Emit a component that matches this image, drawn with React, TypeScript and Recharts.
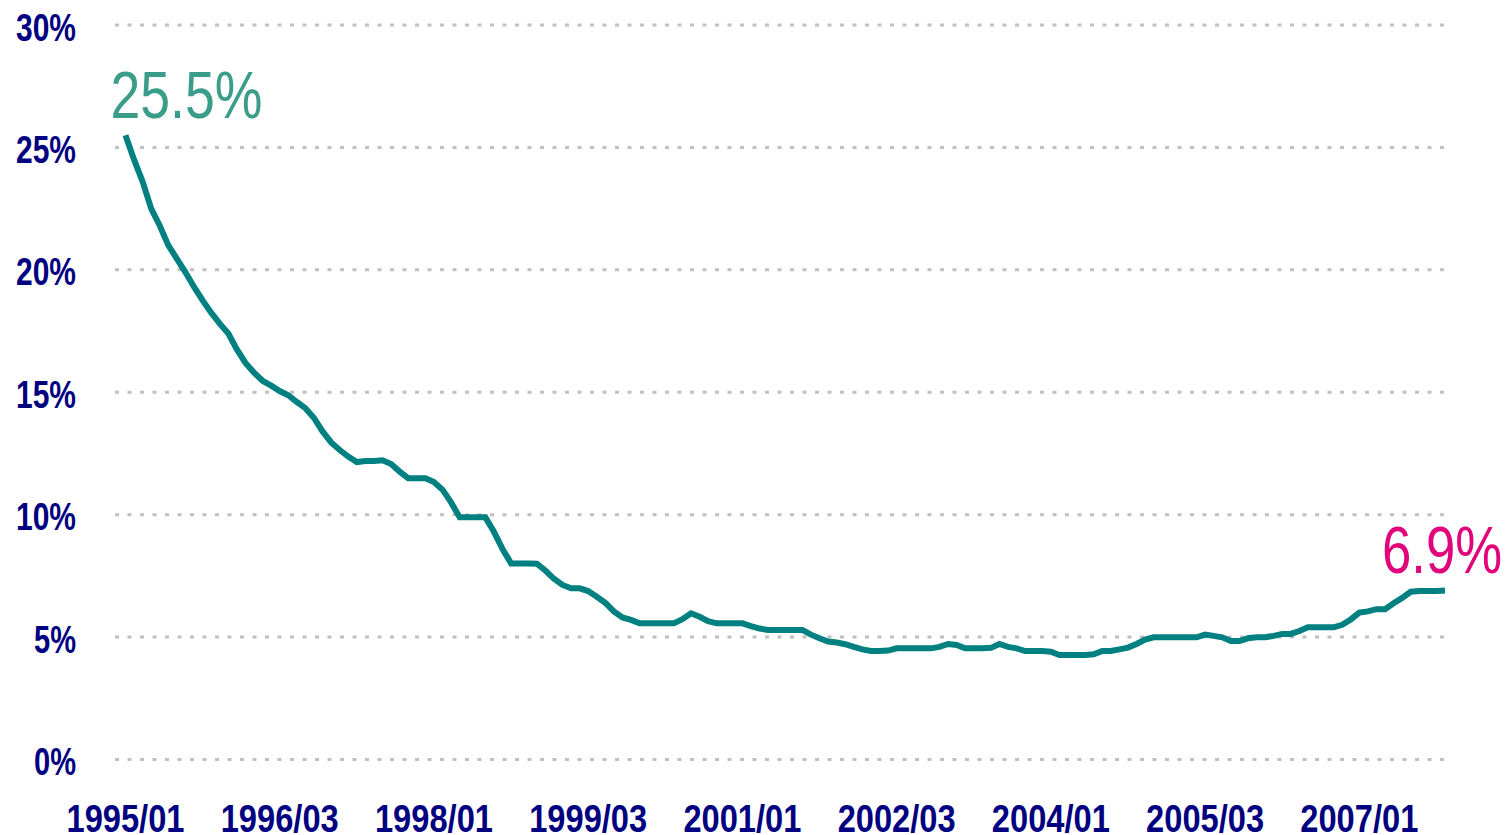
import React from "react";
import { LineChart, Line, XAxis, YAxis, CartesianGrid, ReferenceDot } from "recharts";

// Monthly rate, 1995/01 .. 2007/11 (month index 0..154)
const rateValues: number[] = [
  25.5, 24.5, 23.6, 22.5, 21.8, 21.0, 20.45, 19.9, 19.3, 18.75,
  18.25, 17.8, 17.4, 16.75, 16.2, 15.8, 15.47, 15.27, 15.05, 14.88,
  14.6, 14.35, 13.95, 13.4, 12.95, 12.64, 12.37, 12.15, 12.19, 12.19,
  12.22, 12.07, 11.76, 11.49, 11.49, 11.49, 11.33, 11.02, 10.5, 9.89,
  9.89, 9.89, 9.89, 9.3, 8.6, 8.01, 8.01, 8.01, 8.0, 7.72,
  7.38, 7.13, 6.99, 6.99, 6.88, 6.65, 6.4, 6.05, 5.8, 5.7,
  5.56, 5.56, 5.56, 5.56, 5.56, 5.73, 5.97, 5.83, 5.65, 5.56,
  5.56, 5.56, 5.56, 5.45, 5.35, 5.29, 5.29, 5.29, 5.29, 5.29,
  5.1, 4.95, 4.82, 4.78, 4.71, 4.6, 4.5, 4.43, 4.43, 4.45,
  4.54, 4.54, 4.54, 4.54, 4.54, 4.6, 4.72, 4.68, 4.54, 4.54,
  4.54, 4.56, 4.72, 4.6, 4.54, 4.43, 4.43, 4.43, 4.4, 4.27,
  4.27, 4.27, 4.27, 4.3, 4.43, 4.43, 4.5, 4.57, 4.72, 4.9,
  4.99, 4.99, 4.99, 4.99, 4.99, 4.99, 5.1, 5.05, 4.99, 4.84,
  4.84, 4.95, 4.99, 4.99, 5.05, 5.13, 5.13, 5.25, 5.4, 5.4,
  5.4, 5.4, 5.5, 5.72, 6.0, 6.05, 6.14, 6.14, 6.38, 6.6,
  6.85, 6.88, 6.88, 6.88, 6.9,
];

const xTickMonths: number[] = [0, 18, 36, 54, 72, 90, 108, 126, 144];
const xTickLabels: string[] = [
  "1995/01", "1996/03", "1998/01", "1999/03", "2001/01",
  "2002/03", "2004/01", "2005/03", "2007/01",
];
const yTicks: number[] = [0, 5, 10, 15, 20, 25, 30];

const startLabel = "25.5%";
const endLabel = "6.9%";

const data = rateValues.map((v, i) => ({ m: i, rate: v }));
const lastIndex = rateValues.length - 1;

const NAVY = "#000080";
const LINE = "#008080";

const YTick = (props: any) => {
  const { x, y, payload } = props;
  const label = `${payload.value}%`;
  return (
    <text
      x={x - 39}
      y={y + 15.5}
      textAnchor="end"
      fill={NAVY}
      fontFamily="'Liberation Sans', Arial, sans-serif"
      fontWeight="bold"
      fontSize={39}
      textLength={label.length === 3 ? 60 : 42}
      lengthAdjust="spacingAndGlyphs"
    >
      {label}
    </text>
  );
};

const XTick = (props: any) => {
  const { x, y, payload } = props;
  const idx = xTickMonths.indexOf(payload.value);
  const label = idx >= 0 ? xTickLabels[idx] : "";
  return (
    <text
      x={x}
      y={y + 72.5}
      textAnchor="middle"
      fill={NAVY}
      fontFamily="'Liberation Sans', Arial, sans-serif"
      fontWeight="bold"
      fontSize={39}
      textLength={118}
      lengthAdjust="spacingAndGlyphs"
    >
      {label}
    </text>
  );
};

export default function App() {
  return (
    <div style={{ position: "absolute", left: 0, top: 0, width: 1507, height: 835, background: "#fff" }}>
      <LineChart
        width={1507}
        height={835}
        data={data}
        margin={{ top: 25, right: 57, bottom: 0, left: 0 }}
      >
        <CartesianGrid
          vertical={false}
          stroke="#C0C0C0"
          strokeWidth={3}
          strokeDasharray="4 8.5"
        />
        <XAxis
          dataKey="m"
          type="number"
          domain={[0, lastIndex]}
          ticks={xTickMonths}
          interval={0}
          axisLine={false}
          tickLine={false}
          tickSize={0}
          tickMargin={0}
          height={75.5}
          padding={{ left: 10.5, right: 5 }}
          tick={<XTick />}
        />
        <YAxis
          type="number"
          domain={[0, 30]}
          ticks={yTicks}
          interval={0}
          axisLine={false}
          tickLine={false}
          tickSize={0}
          tickMargin={0}
          width={115}
          tick={<YTick />}
        />
        <Line
          type="linear"
          dataKey="rate"
          stroke={LINE}
          strokeWidth={6}
          dot={false}
          activeDot={false}
          isAnimationActive={false}
        />
        <ReferenceDot
          x={0}
          y={rateValues[0]}
          r={0}
          ifOverflow="visible"
          shape={(p: any) => (
            <text
              x={p.cx - 15}
              y={p.cy - 17}
              fill="#3A9D8A"
              fontFamily="'Liberation Sans', Arial, sans-serif"
              fontSize={67}
              textLength={152}
              lengthAdjust="spacingAndGlyphs"
            >
              {startLabel}
            </text>
          )}
        />
        <ReferenceDot
          x={lastIndex}
          y={rateValues[lastIndex]}
          r={0}
          ifOverflow="visible"
          shape={(p: any) => (
            <text
              x={p.cx - 63}
              y={p.cy - 18}
              fill="#E0057A"
              fontFamily="'Liberation Sans', Arial, sans-serif"
              fontSize={67}
              textLength={120}
              lengthAdjust="spacingAndGlyphs"
            >
              {endLabel}
            </text>
          )}
        />
      </LineChart>
    </div>
  );
}
